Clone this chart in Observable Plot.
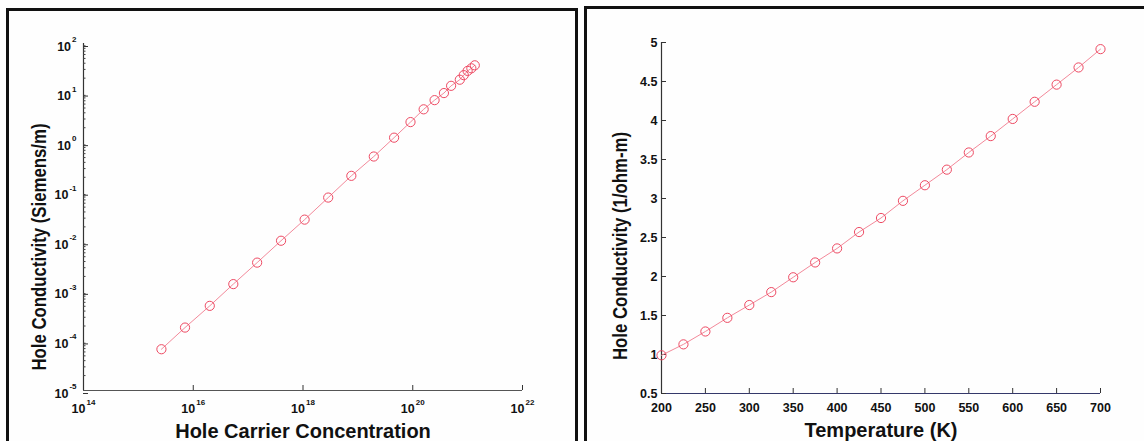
<!DOCTYPE html>
<html>
<head>
<meta charset="utf-8">
<script src="https://cdn.jsdelivr.net/npm/d3@7"></script>
<script src="https://cdn.jsdelivr.net/npm/@observablehq/plot@0.6"></script>
<style>
  html, body { margin: 0; padding: 0; background: #ffffff; }
  #wrap { position: relative; width: 1144px; height: 441px; overflow: hidden; background: #fefefe; }
  .panel { position: absolute; }
  .border { position: absolute; border: 3px solid #111; border-bottom: none; pointer-events: none; z-index: 5; }
</style>
</head>
<body>
<div id="wrap">
  <div class="border" style="left:6px; top:8px; width:566px; height:440px;"></div>
  <div class="border" style="left:584px; top:6px; width:600px; height:440px; border-right:none;"></div>
  <div id="left" class="panel" style="left:0px; top:0px;"></div>
  <div id="right" class="panel" style="left:580px; top:0px;"></div>
</div>
<script>
// ---- Left panel data: hole conductivity vs hole carrier concentration (log-log)
const carrierConc = [2.63e15, 7.08e15, 2.0e16, 5.37e16, 1.46e17, 3.98e17, 1.07e18, 2.88e18, 7.6e18, 1.95e19, 4.57e19, 9.1e19, 1.58e20, 2.5e20, 3.7e20, 5.0e20, 7.2e20, 8.5e20, 1.0e21, 1.17e21, 1.35e21];
const condVsConc = [6.8e-5, 1.86e-4, 5.1e-4, 1.40e-3, 3.8e-3, 1.05e-2, 2.8e-2, 7.8e-2, 0.214, 0.525, 1.26, 2.6, 4.7, 7.2, 10.0, 14.0, 18.6, 23, 28, 31.6, 36.3];
const leftXTicks = [1e14, 1e16, 1e18, 1e20, 1e22];
const leftYTicks = [1e-5, 1e-4, 1e-3, 1e-2, 1e-1, 1e0, 1e1, 1e2];
const leftXTitle = "Hole Carrier Concentration";
const leftYTitle = "Hole Conductivity (Siemens/m)";

// ---- Right panel data: hole conductivity vs temperature
const temperature = [200, 225, 250, 275, 300, 325, 350, 375, 400, 425, 450, 475, 500, 525, 550, 575, 600, 625, 650, 675, 700];
const condVsTemp = [0.99, 1.13, 1.295, 1.47, 1.634, 1.80, 1.99, 2.18, 2.36, 2.57, 2.75, 2.97, 3.17, 3.37, 3.59, 3.80, 4.02, 4.24, 4.46, 4.68, 4.915];
const rightXTicks = [200, 250, 300, 350, 400, 450, 500, 550, 600, 650, 700];
const rightYTicks = [0.5, 1, 1.5, 2, 2.5, 3, 3.5, 4, 4.5, 5];
const rightXTitle = "Temperature (K)";
const rightYTitle = "Hole Conductivity (1/ohm-m)";

// minor log ticks on the y axis
const leftYMinor = [];
for (let e = -5; e < 2; e++) for (let m = 2; m <= 9; m++) leftYMinor.push(m * Math.pow(10, e));

const lineColor = "#f3899a";
const dotColor = "#ee4a63";
const font = "'Liberation Sans', Arial, Helvetica, sans-serif";
const expFmt = d => `10^${Math.round(Math.log10(d))}`;

function superscripts(svg) {
  d3.select(svg).selectAll('g[aria-label$="tick label"] text').each(function () {
    const s = this.textContent;
    if (s.includes("^")) {
      const [b, e] = s.split("^");
      this.textContent = b;
      d3.select(this).append("tspan").attr("dx", 1).attr("dy", -8.5).attr("font-size", 8).text(e);
    }
  });
}
// the scanned figure is squashed vertically: fit the rotated titles to their length
function fitTitle(svg, title, len) {
  d3.select(svg).selectAll("text").filter(function () { return this.textContent === title; })
    .attr("textLength", len).attr("lengthAdjust", "spacingAndGlyphs");
}

const leftData = carrierConc.map((n, i) => ({n, s: condVsConc[i]}));
const left = Plot.plot({
  width: 580, height: 441,
  marginLeft: 83, marginRight: 58, marginTop: 43, marginBottom: 51,
  style: {background: "transparent", fontFamily: font, fontWeight: "bold", fontSize: "12.5px", color: "#111", overflow: "visible"},
  x: {type: "log", domain: [1e14, 1e22]},
  y: {type: "log", domain: [1e-5, 1e2]},
  marks: [
    Plot.ruleX([1e14], {stroke: "#333", strokeWidth: 1.2}),
    Plot.ruleY([1e-5], {stroke: "#555", strokeWidth: 1.2}),
    Plot.axisY(leftYMinor, {label: null, tickSize: -2.5, tickFormat: () => "", stroke: "#444"}),
    Plot.axisY(leftYTicks, {label: null, tickSize: -5, tickPadding: 12, tickFormat: expFmt, dy: 3, stroke: "#333"}),
    Plot.axisX(leftXTicks, {label: null, tickSize: -5, tickPadding: 19, tickFormat: expFmt, stroke: "#333"}),
    Plot.line(leftData, {x: "n", y: "s", stroke: lineColor, strokeWidth: 1}),
    Plot.dot(leftData, {x: "n", y: "s", r: 4.6, stroke: dotColor, strokeWidth: 1, fill: "none"}),
    Plot.text([leftXTitle], {text: d => d, frameAnchor: "bottom", lineAnchor: "middle", textAnchor: "middle", dy: 41, fontSize: 20, fontWeight: "bold", fill: "#111"}),
    Plot.text([leftYTitle], {text: d => d, frameAnchor: "left", lineAnchor: "middle", textAnchor: "middle", rotate: -90, dx: -44, dy: 30, fontSize: 20, fontWeight: "bold", fill: "#111"})
  ]
});
superscripts(left);
fitTitle(left, leftYTitle, 247);
document.getElementById("left").appendChild(left);

const rightData = temperature.map((t, i) => ({t, s: condVsTemp[i]}));
const right = Plot.plot({
  width: 564, height: 441,
  marginLeft: 81, marginRight: 44, marginTop: 42, marginBottom: 48,
  style: {background: "transparent", fontFamily: font, fontWeight: "bold", fontSize: "12.5px", color: "#111", overflow: "visible"},
  x: {domain: [200, 700]},
  y: {domain: [0.5, 5]},
  marks: [
    Plot.ruleX([200], {stroke: "#333", strokeWidth: 1.2}),
    Plot.ruleY([0.5], {stroke: "#34386a", strokeWidth: 1.2}),
    Plot.axisY(rightYTicks, {label: null, tickSize: -5, tickPadding: 9, tickFormat: d => String(d), stroke: "#333"}),
    Plot.axisX(rightXTicks, {label: null, tickSize: -5, tickPadding: 15, tickFormat: d => String(d), stroke: "#333"}),
    Plot.line(rightData, {x: "t", y: "s", stroke: lineColor, strokeWidth: 1}),
    Plot.dot(rightData, {x: "t", y: "s", r: 4.6, stroke: dotColor, strokeWidth: 1, fill: "none"}),
    Plot.text([rightXTitle], {text: d => d, frameAnchor: "bottom", lineAnchor: "middle", textAnchor: "middle", dy: 37, fontSize: 20, fontWeight: "bold", fill: "#111"}),
    Plot.text([rightYTitle], {text: d => d, frameAnchor: "left", lineAnchor: "middle", textAnchor: "middle", rotate: -90, dx: -41, dy: 28, fontSize: 20, fontWeight: "bold", fill: "#111"})
  ]
});
fitTitle(right, rightYTitle, 228);
document.getElementById("right").appendChild(right);
</script>
</body>
</html>
